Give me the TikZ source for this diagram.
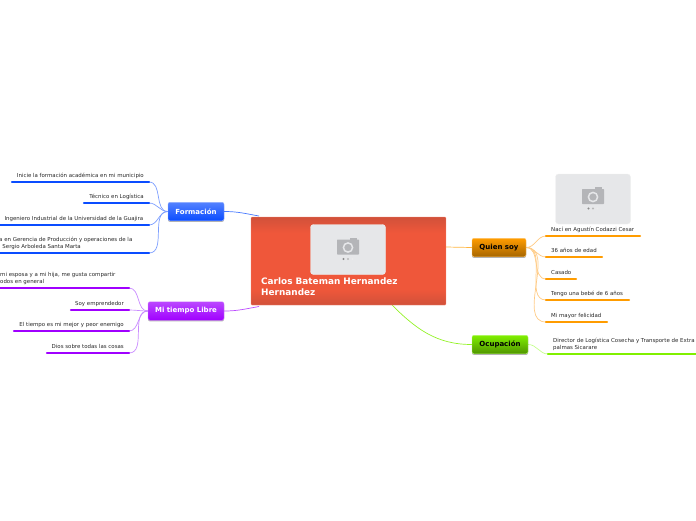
\documentclass[tikz,border=0pt]{standalone}
\usepackage{fontspec}
\setmainfont{DejaVu Sans}
\usetikzlibrary{shadows, backgrounds, positioning, calc}
\definecolor{formblue}{HTML}{0A4CFF}
\definecolor{formlink}{HTML}{7C9EFF}
\definecolor{librepurple}{HTML}{A000FF}
\definecolor{librelink}{HTML}{C98BFF}
\definecolor{quienorange}{HTML}{FF9C00}
\definecolor{quienlink}{HTML}{FFCB85}
\definecolor{ocupgreen}{HTML}{80F000}
\definecolor{ocuplink}{HTML}{C4FF8C}
\definecolor{photogray}{HTML}{E6E7E9}
\definecolor{cameragray}{HTML}{B4B5B8}
\definecolor{centredark}{HTML}{D1513A}
\definecolor{centremid}{HTML}{EF573A}
\pgfdeclareverticalshading{centreshade}{100bp}{
  color(0bp)=(centredark); color(25bp)=(centredark);
  color(34bp)=(centremid); color(66bp)=(centremid);
  color(75bp)=(centredark); color(100bp)=(centredark)}

\begin{document}
\begin{tikzpicture}[
  x=1pt, y=-1pt,
  centre/.style={minimum width=195pt, minimum height=88pt, inner sep=0pt, shading=centreshade,
                 rounded corners=1pt, draw=centremid!70!white, line width=0.4pt},
  title/.style={font=\fontsize{8.9}{11}\selectfont\bfseries, text=white, align=left, inner sep=0pt, anchor=north west},
  topic/.style={rounded corners=2pt, minimum height=18.5pt, inner sep=0pt, line width=0.4pt,
                font=\fontsize{7}{8}\selectfont\bfseries,
                drop shadow={shadow xshift=0pt, shadow yshift=-1.2pt, opacity=0.3, fill=black}},
  formtopic/.style={topic, minimum width=56pt, text=white, top color=formblue!70!white, bottom color=formblue, draw=formblue!45!white},
  libretopic/.style={topic, minimum width=76pt, text=white, top color=librepurple!72!white, bottom color=librepurple, draw=librepurple!45!white},
  quientopic/.style={topic, minimum width=54pt, text=black, top color=quienorange, bottom color=quienorange!65!black, draw=quienorange!60!white},
  ocuptopic/.style={topic, minimum width=56pt, text=black, top color=ocupgreen, bottom color=ocupgreen!62!black, draw=ocupgreen!60!white},
  leaf/.style={font=\fontsize{5.45}{7}\selectfont, text=black!85, inner sep=0pt, align=left},
  bar/.style={line width=2.4pt, line cap=round},
  link/.style={line width=0.7pt},
  photo/.pic={
    \fill[photogray, draw=black!6, rounded corners=3pt] (-37.5,-25) rectangle (37.5,25);
    \fill[cameragray, rounded corners=0.7pt] (-11,-10) rectangle (11,5);
    \fill[cameragray] (2,-12) rectangle (9,-10);
    \draw[photogray, line width=1.5pt] (0,-2) circle (4.6);
    \fill[black!45] (-4.5,9.5) circle (1.1);
    \fill[black!28] (0,9.5) circle (1.1);
    \fill[black!8] (4.5,9.5) circle (1.1);
  },
]
  \useasboundingbox (0,0) rectangle (696,520);

  % centre
  \node[centre] (centre) at (348.5,261) {};
  \pic at (348,249.5) {photo};
  \node[title] (name) at (261,277.5) {Carlos Bateman Hernandez\\Hernandez};
  \coordinate (centreform) at (259,216);
  \coordinate (centrelibre) at (259,306.5);
  \coordinate (centrequien) at (446,247);
  \coordinate (centreocup) at (392,305);

  % main branches
  \node[formtopic]  (formacion) at (196,211.5) {Formación};
  \node[libretopic] (libre)     at (186,311)   {Mi tiempo Libre};
  \node[quientopic] (quien)     at (499,247.5) {Quien soy};
  \node[ocuptopic]  (ocupacion) at (500,344.5) {Ocupación};

  % Formacion
  \coordinate (forma) at (149,182); \coordinate (formaend) at (12,182);
  \coordinate (formb) at (149,203); \coordinate (formbend) at (84,203);
  \coordinate (formc) at (149,225); \coordinate (formcend) at (-3,225);
  \coordinate (formd) at (149,253); \coordinate (formdend) at (-3,253);
  \node[leaf, anchor=base east] (formatext) at (144,177) {Inicie la formación académica en mi municipio};
  \node[leaf, anchor=base east] (formbtext) at (144,198) {Técnico en Logística};
  \node[leaf, anchor=base east] (formctext) at (143.5,220) {Ingeniero Industrial de la Universidad de la Guajira};
  \node[leaf, anchor=base west] (formdtext) at (-1,248.5) {a en Gerencia de Producción y operaciones de la\\l Sergio Arboleda Santa Marta};

  % Mi tiempo Libre
  \coordinate (librea) at (129,288); \coordinate (libreaend) at (-3,288);
  \coordinate (libreb) at (129,310); \coordinate (librebend) at (71,310);
  \coordinate (librec) at (129,331); \coordinate (librecend) at (14,331);
  \coordinate (libred) at (129,353); \coordinate (libredend) at (47,353);
  \node[leaf, anchor=base west] (libreatext) at (0,283.5) {mi esposa y a mi hija, me gusta compartir\\odos en general};
  \node[leaf, anchor=base east] (librebtext) at (124,305) {Soy emprendedor};
  \node[leaf, anchor=base east] (librectext) at (124,326) {El tiempo es mi mejor y peor enemigo};
  \node[leaf, anchor=base east] (libredtext) at (124,348) {Dios sobre todas las cosas};

  % Quien soy
  \coordinate (quiena) at (546,236); \coordinate (quienaend) at (640,236);
  \coordinate (quienb) at (546,257); \coordinate (quienbend) at (602,257);
  \coordinate (quienc) at (546,279); \coordinate (quiencend) at (576,279);
  \coordinate (quiend) at (546,300); \coordinate (quiendend) at (629,300);
  \coordinate (quiene) at (546,322); \coordinate (quieneend) at (607,322);
  \pic at (593,199) {photo};
  \node[leaf, anchor=base west] (quienatext) at (551,231) {Nací en Agustín Codazzi Cesar};
  \node[leaf, anchor=base west] (quienbtext) at (551,252) {36 años de edad};
  \node[leaf, anchor=base west] (quienctext) at (551,274) {Casado};
  \node[leaf, anchor=base west] (quiendtext) at (551,295) {Tengo una bebé de 6 años};
  \node[leaf, anchor=base west] (quienetext) at (551,317) {Mi mayor felicidad};

  % Ocupacion
  \coordinate (ocupa) at (548,354); \coordinate (ocupaend) at (699,354);
  \node[leaf, anchor=base west] (ocupatext) at (553,349) {Director de Logística Cosecha y Transporte de Extra\\palmas Sicarare};

  \begin{pgfonlayer}{background}
    \draw[link, formblue!75!white] (formacion.east) to[out=0, in=170] (centreform);
    \draw[link, librepurple!70!white] (libre.east) to[out=0, in=190] (centrelibre);
    \draw[link, quienorange!75!white] (centrequien) -- (quien.west);
    \draw[link, ocupgreen!85!white] (centreocup) to[out=-45, in=180] (ocupacion.west);

    \draw[link, formlink] (formacion.west) to[out=180, in=0] (forma);
    \draw[link, formlink] (formacion.west) to[out=180, in=0] (formb);
    \draw[link, formlink] (formacion.west) to[out=180, in=0] (formc);
    \draw[link, formlink] (formacion.west) to[out=180, in=0] (formd);
    \draw[link, librelink] (libre.west) to[out=180, in=0] (librea);
    \draw[link, librelink] (libre.west) to[out=180, in=0] (libreb);
    \draw[link, librelink] (libre.west) to[out=180, in=0] (librec);
    \draw[link, librelink] (libre.west) to[out=180, in=0] (libred);
    \draw[link, quienlink] (quien.east) to[out=0, in=180] (quiena);
    \draw[link, quienlink] (quien.east) to[out=0, in=180] (quienb);
    \draw[link, quienlink] (quien.east) to[out=0, in=180] (quienc);
    \draw[link, quienlink] (quien.east) to[out=0, in=180] (quiend);
    \draw[link, quienlink] (quien.east) to[out=0, in=180] (quiene);
    \draw[link, ocuplink] (ocupacion.east) to[out=0, in=180] (ocupa);
  \end{pgfonlayer}

  \draw[bar, formblue] (forma) -- (formaend);
  \draw[bar, formblue] (formb) -- (formbend);
  \draw[bar, formblue] (formc) -- (formcend);
  \draw[bar, formblue] (formd) -- (formdend);
  \draw[bar, librepurple] (librea) -- (libreaend);
  \draw[bar, librepurple] (libreb) -- (librebend);
  \draw[bar, librepurple] (librec) -- (librecend);
  \draw[bar, librepurple] (libred) -- (libredend);
  \draw[bar, quienorange] (quiena) -- (quienaend);
  \draw[bar, quienorange] (quienb) -- (quienbend);
  \draw[bar, quienorange] (quienc) -- (quiencend);
  \draw[bar, quienorange] (quiend) -- (quiendend);
  \draw[bar, quienorange] (quiene) -- (quieneend);
  \draw[bar, ocupgreen] (ocupa) -- (ocupaend);
\end{tikzpicture}
\end{document}
